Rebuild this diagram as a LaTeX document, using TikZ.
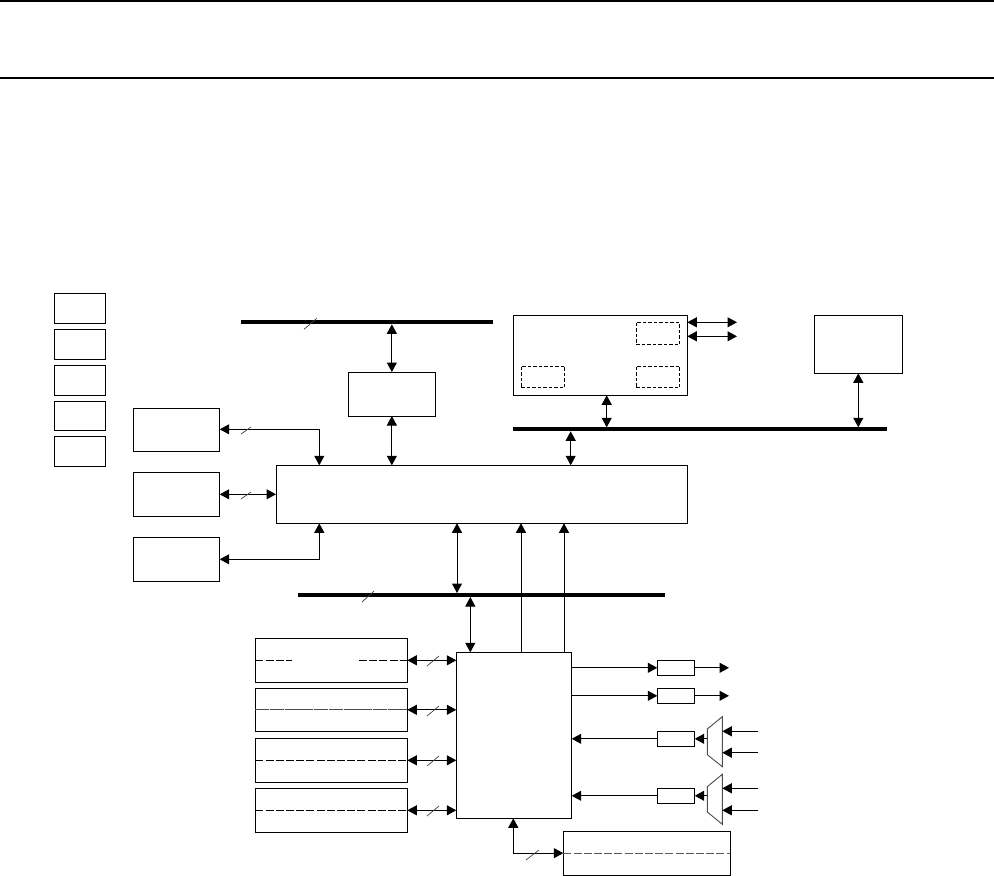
\documentclass[tikz,border=0pt]{standalone}
\usetikzlibrary{arrows.meta,calc}
\tikzset{
  bx/.style={draw=black,line width=1pt,inner sep=0pt,outer sep=0pt,fill=white},
  dbx/.style={draw=black,line width=0.9pt,inner sep=0pt,outer sep=0pt,dash pattern=on 3.5pt off 2pt},
  busbar/.style={fill=black,inner sep=0pt,outer sep=0pt},
  dbl/.style={line width=1pt,{Triangle[length=9.5pt,width=10pt]}-{Triangle[length=9.5pt,width=10pt]}},
  arr/.style={line width=1pt,-{Triangle[length=9.5pt,width=10pt]}},
  slash/.style={line width=0.7pt,draw=black!75},
  inner dash/.style={line width=1pt,dash pattern=on 8pt off 2.2pt},
  mux/.style={line width=0.9pt,draw=black!70,fill=white},
  rule/.style={line width=2pt}
}
% name, x1, y1, x2, y2, style
\newcommand{\rbox}[6]{%
  \node[#6,minimum width={(#4-#2)*1pt},minimum height={(#5-#3)*1pt}] (#1) at ({(#2+#4)/2},{(#3+#5)/2}) {};}
\begin{document}
\begin{tikzpicture}[x=1pt,y=-1pt]
\useasboundingbox (0,0) rectangle (994,876);
\coordinate (ruleAl) at (0,0.5); \coordinate (ruleAr) at (994,0.5);
\coordinate (ruleBl) at (0,77.5); \coordinate (ruleBr) at (994,77.5);
\draw[rule] (ruleAl) -- (ruleAr);
\draw[rule] (ruleBl) -- (ruleBr);
% legend boxes
\rbox{l1}{54.3}{293.3}{105.7}{323.3}{bx}
\rbox{l2}{54.3}{329.3}{105.7}{359.3}{bx}
\rbox{l3}{54.3}{365.3}{105.7}{395.3}{bx}
\rbox{l4}{54.3}{401.3}{105.7}{430.3}{bx}
\rbox{l5}{54.3}{436.3}{105.7}{466.3}{bx}
% left boxes
\rbox{a1}{133.3}{408.3}{219.7}{451.3}{bx}
\rbox{a2}{133.3}{472.3}{219.7}{516.3}{bx}
\rbox{a3}{133.3}{537.3}{219.7}{581.3}{bx}
% central
\rbox{core}{276}{465.3}{687.5}{523.3}{bx}
\rbox{mem}{348}{372}{435.7}{416}{bx}
% buses
\rbox{busA}{241}{320.3}{493}{324.3}{busbar}
\rbox{busB}{513}{427.3}{886.7}{431.3}{busbar}
\rbox{busC}{298}{593}{665}{597}{busbar}
% top right
\rbox{tr}{513.3}{315.3}{687.3}{395.3}{bx}
\rbox{d1}{636}{322.3}{679.7}{344.3}{dbx}
\rbox{d2}{521}{366}{564.7}{387.7}{dbx}
\rbox{d3}{636}{366}{679.7}{387.7}{dbx}
\rbox{far}{814.3}{315.3}{902.7}{373.3}{bx}
% MCU
\rbox{mcu}{456.3}{652.3}{571.7}{818.3}{bx}
% memories
\rbox{m1}{255.3}{638.3}{407.3}{682.3}{bx}
\rbox{m2}{255.3}{688.3}{407.3}{731.3}{bx}
\rbox{m3}{255.3}{738.3}{407.3}{782.3}{bx}
\rbox{m4}{255.3}{788.3}{407.3}{832.3}{bx}
\rbox{bot}{563.3}{831.3}{730.3}{875}{bx}
% small boxes
\rbox{s1}{657.3}{660.3}{694.7}{675.3}{bx}
\rbox{s2}{657.3}{688.3}{694.7}{703.3}{bx}
\rbox{s3}{657.3}{731.3}{694.7}{746.3}{bx}
\rbox{s4}{657.3}{788.3}{694.7}{803.3}{bx}
% muxes
\coordinate (x1) at (707.3,0); \coordinate (x2) at (722.3,0);
\draw[mux] (x2 |- 0,716.7) coordinate (mAa) -- (x2 |- 0,766.7) -- (x1 |- 0,754.7) -- (x1 |- 0,729) -- cycle;
\draw[mux] (x2 |- 0,774.3) -- (x2 |- 0,824.3) -- (x1 |- 0,812) -- (x1 |- 0,786.7) -- cycle;
\coordinate (muxA) at (707.3,738.8);
\coordinate (muxB) at (707.3,795.8);
% inner dashes
\coordinate (g1) at (292.3,660.3); \coordinate (g2) at (359,660.3);
\draw[inner dash] (m1.west) -- (g1);
\draw[inner dash] (g2) -- (m1.east);
\draw[inner dash,draw=black!70,dash pattern=on 14pt off 0.7pt] (m2.west) -- (m2.east);
\draw[inner dash] (m3.west) -- (m3.east);
\draw[inner dash] (m4.west) -- (m4.east);
\draw[inner dash,draw=black!65] (bot.west) -- (bot.east);
% top connectors
\draw[dbl] (mem.north) -- (mem.north |- busA.south);
\draw[dbl] (mem.south) -- (mem.south |- core.north);
\coordinate (xa) at (606.7,0); \coordinate (xb) at (858.3,0); \coordinate (xc) at (570.7,0);
\draw[dbl] (xa |- tr.south) -- (xa |- busB.north);
\draw[dbl] (xb |- far.south) -- (xb |- busB.north);
\draw[dbl] (xc |- busB.south) -- (xc |- core.north);
\coordinate (ta) at (737,322.3); \coordinate (tb) at (737,336.3);
\draw[dbl] (tr.east |- ta) -- (ta);
\draw[dbl] (tr.east |- tb) -- (tb);
% left connectors
\coordinate (xl) at (319.3,0);
\draw[dbl] (a1.east |- 0,429.3) -| (xl |- core.north);
\draw[dbl] (a2.east) -- (core.west |- a2.east);
\draw[dbl] (a3.east) -| (xl |- core.south);
% core-lower connectors
\coordinate (xd) at (457,0); \coordinate (xe) at (470.3,0); \coordinate (xf) at (521,0); \coordinate (xg) at (564,0);
\draw[dbl] (xd |- core.south) -- (xd |- busC.north);
\draw[dbl] (xe |- busC.south) -- (xe |- mcu.north);
\draw[arr] (xf |- mcu.north) -- (xf |- core.south);
\draw[arr] (xg |- mcu.north) -- (xg |- core.south);
% memory connectors
\draw[dbl] (m1.east) -- (mcu.west |- m1.east);
\draw[dbl] (m2.east) -- (mcu.west |- m2.east);
\draw[dbl] (m3.east) -- (mcu.west |- m3.east);
\draw[dbl] (m4.east) -- (mcu.west |- m4.east);
% right outputs
\coordinate (o1) at (729,667.8); \coordinate (o2) at (729,695.8);
\draw[arr] (mcu.east |- s1.west) -- (s1.west);
\draw[arr] (mcu.east |- s2.west) -- (s2.west);
\draw[arr] (s1.east) -- (o1);
\draw[arr] (s2.east) -- (o2);
\draw[arr] (s3.west) -- (mcu.east |- s3.west);
\draw[arr] (s4.west) -- (mcu.east |- s4.west);
\draw[arr] (muxA) -- (s3.east);
\draw[arr] (muxB) -- (s4.east);
\coordinate (i1) at (758.3,731.3); \coordinate (i2) at (758.3,752.7);
\coordinate (i3) at (758.3,788.3); \coordinate (i4) at (758.3,810.3);
\draw[arr] (i1) -- (x2 |- i1);
\draw[arr] (i2) -- (x2 |- i2);
\draw[arr] (i3) -- (x2 |- i3);
\draw[arr] (i4) -- (x2 |- i4);
% bottom elbow
\coordinate (xh) at (513.3,0);
\draw[dbl] (xh |- mcu.south) |- (bot.west);
% slashes
\draw[slash] (304,329.3) -- (316.7,318.3);
\draw[slash] (362,602) -- (374,591);
\draw[slash] (241,434) -- (251,427);
\draw[slash] (241,499) -- (251,492);
\draw[slash] (427,666) -- (439,656);
\draw[slash] (427,716) -- (439,706);
\draw[slash] (427,766) -- (439,756);
\draw[slash] (427,816) -- (439,806);
\draw[slash] (526,860) -- (539,850);
\end{tikzpicture}
\end{document}
